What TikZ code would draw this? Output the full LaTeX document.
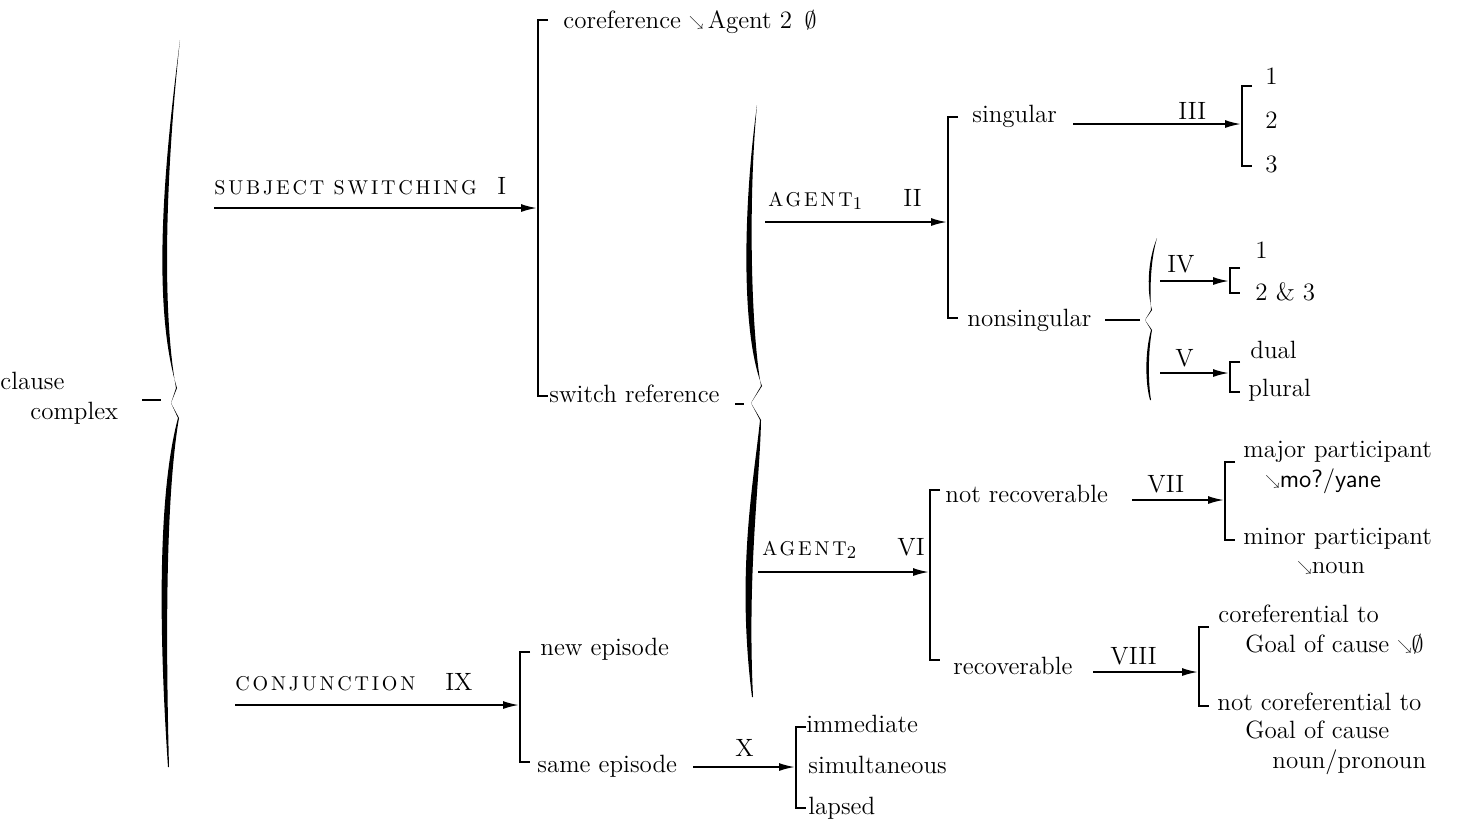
\documentclass[tikz,border=0pt]{standalone}
\usepackage{fontspec}
\usepackage{amssymb}
\usetikzlibrary{arrows.meta,positioning}
\tikzset{>={Latex[length=8pt,width=4pt]}}
\colorlet{penColor}{black}
\newfontfamily\spacedcaps{Latin Modern Roman}[LetterSpace=14]
\newcommand{\sw}{\raisebox{.15ex}{\scalebox{.6}{$\searrow$}}}
\newcommand{\caps}[1]{{\spacedcaps\fontsize{10}{11}\selectfont#1}}
\newcommand{\sysbar}[3]{\draw[bar] (#1+10,#2) -- (#1,#2) -- (#1,#3) -- (#1+10,#3);}

\begin{document}
\begin{tikzpicture}[x=0.5pt,y=-0.5pt,
    every node/.style={inner sep=0pt,font=\fontsize{12.5}{14}\selectfont},
    term/.style={anchor=base west},
    bar/.style={penColor,line width=0.9pt},
    feed/.style={penColor,->,line width=0.9pt},
    stub/.style={penColor,line width=0.7pt}]
      \useasboundingbox (0,0) rectangle (1460,821);
      % braces
      \fill[penColor] (180,40) .. controls (166,150) and (150,300) .. (177,388) -- (171,403)
        -- (176,388) .. controls (160,300) and (168,150) .. (180,40) -- cycle;
      \fill[penColor] (171,403) -- (178,418) .. controls (156,500) and (160,650) .. (168,767)
        -- (169,767) .. controls (166,650) and (165,500) .. (179,418) -- cycle;
      \fill[penColor] (757,105) .. controls (744,200) and (740,330) .. (762,386) -- (751,403)
        -- (761,386) .. controls (751,330) and (748,200) .. (757,105) -- cycle;
      \fill[penColor] (751,403) -- (760,420) .. controls (754,480) and (736,570) .. (752,697)
        -- (753,697) .. controls (747,570) and (760,480) .. (761,420) -- cycle;
      \fill[penColor] (1157,238) .. controls (1147,262) and (1147,292) .. (1152,310) -- (1145,320)
        -- (1151,310) .. controls (1150,292) and (1150,262) .. (1157,238) -- cycle;
      \fill[penColor] (1145,320) -- (1151,330) .. controls (1145,352) and (1145,382) .. (1150,400)
        -- (1151,400) .. controls (1148,382) and (1148,352) .. (1152,330) -- cycle;
      % bars
      \sysbar{538}{20}{396}
      \sysbar{948}{117}{318}
      \sysbar{1242}{86}{166}
      \sysbar{1230}{268}{293}
      \sysbar{1230}{362}{392}
      \sysbar{930}{490}{660}
      \sysbar{1225}{462}{540}
      \sysbar{1199}{627}{706}
      \sysbar{520}{652}{762}
      \sysbar{796}{727}{808}
      % terms
      \node[term] (cl) at (0,389) {clause};
      \node[term] (cx) at (30,419) {complex};
      \node[term] (coref) at (563,28) {coreference \sw\,Agent 2\enspace$\emptyset$};
      \node[term] (swref) at (549,402) {switch reference};
      \node[term] (sing) at (972,122) {singular};
      \node[term] (nsing) at (967,326) {nonsingular};
      \node[term] (p1) at (1265,84) {1};
      \node[term] (p2) at (1265,128) {2};
      \node[term] (p3) at (1265,172) {3};
      \node[term] (q1) at (1255,258) {1};
      \node[term] (q23) at (1255,300) {2 \& 3};
      \node[term] (dual) at (1250,358) {dual};
      \node[term] (plur) at (1248,396) {plural};
      \node[term] (nrec) at (945,502) {not recoverable};
      \node[term] (rec) at (953,674) {recoverable};
      \node[term] (maj) at (1243,457) {major participant};
      \node[term] (majf) at (1265,487) {\sw{\sffamily mo?/yane}};
      \node[term] (min) at (1243,544) {minor participant};
      \node[term] (minf) at (1297,573) {\sw noun};
      \node[term] (cor) at (1218,622) {coreferential to};
      \node[term] (corf) at (1245,652) {Goal of cause \sw$\emptyset$};
      \node[term] (ncor) at (1217,710) {not coreferential to};
      \node[term] (ncorg) at (1245,738) {Goal of cause};
      \node[term] (ncorf) at (1272,768) {noun/pronoun};
      \node[term] (newep) at (540,655) {new episode};
      \node[term] (same) at (537,772) {same episode};
      \node[term] (imm) at (806,732) {immediate};
      \node[term] (sim) at (808,773) {simultaneous};
      \node[term] (lap) at (808,814) {lapsed};
      % system labels
      \node[term] (ssLab) at (214,194) {\caps{SUBJECT SWITCHING}};
      \node[term] (ssNum) at (497,194) {I};
      \node[term] (a1Lab) at (768,206) {\caps{AGENT}$_1$};
      \node[term] (a1Num) at (903,206) {II};
      \node[term] (s3Lab) at (1178,119) {III};
      \node[term] (s4Lab) at (1167,272) {IV};
      \node[term] (s5Lab) at (1175,366) {V};
      \node[term] (a2Lab) at (762,555) {\caps{AGENT}$_2$};
      \node[term] (a2Num) at (897,555) {VI};
      \node[term] (s7Lab) at (1147,492) {VII};
      \node[term] (s8Lab) at (1110,664) {VIII};
      \node[term] (cjLab) at (235,690) {\caps{CONJUNCTION}};
      \node[term] (cjNum) at (445,690) {IX};
      \node[term] (s10Lab) at (735,756) {X};
      % entry points
      \coordinate (ssA) at (214,208);   \coordinate (ssB) at (537,208);
      \coordinate (a1A) at (765,222);   \coordinate (a1B) at (947,222);
      \coordinate (s3A) at (1073,124);  \coordinate (s3B) at (1241,124);
      \coordinate (s4A) at (1160,281);  \coordinate (s4B) at (1229,281);
      \coordinate (s5A) at (1160,373);  \coordinate (s5B) at (1229,373);
      \coordinate (a2A) at (758,572);   \coordinate (a2B) at (929,572);
      \coordinate (s7A) at (1132,500);  \coordinate (s7B) at (1224,500);
      \coordinate (s8A) at (1093,672);  \coordinate (s8B) at (1198,672);
      \coordinate (cjA) at (235,705);   \coordinate (cjB) at (519,705);
      \coordinate (s10A) at (693,767);  \coordinate (s10B) at (795,767);
      \draw[feed] (ssA) -- (ssB);
      \draw[feed] (a1A) -- (a1B);
      \draw[feed] (s3A) -- (s3B);
      \draw[feed] (s4A) -- (s4B);
      \draw[feed] (s5A) -- (s5B);
      \draw[feed] (a2A) -- (a2B);
      \draw[feed] (s7A) -- (s7B);
      \draw[feed] (s8A) -- (s8B);
      \draw[feed] (cjA) -- (cjB);
      \draw[feed] (s10A) -- (s10B);
      % stubs into braces
      \coordinate (clA) at (142,400);   \coordinate (clB) at (161,400);
      \coordinate (swA) at (735,404);   \coordinate (swB) at (744,404);
      \coordinate (nsA) at (1105,320);  \coordinate (nsB) at (1140,320);
      \draw[stub] (clA) -- (clB);
      \draw[stub] (swA) -- (swB);
      \draw[stub] (nsA) -- (nsB);
\end{tikzpicture}
\end{document}
